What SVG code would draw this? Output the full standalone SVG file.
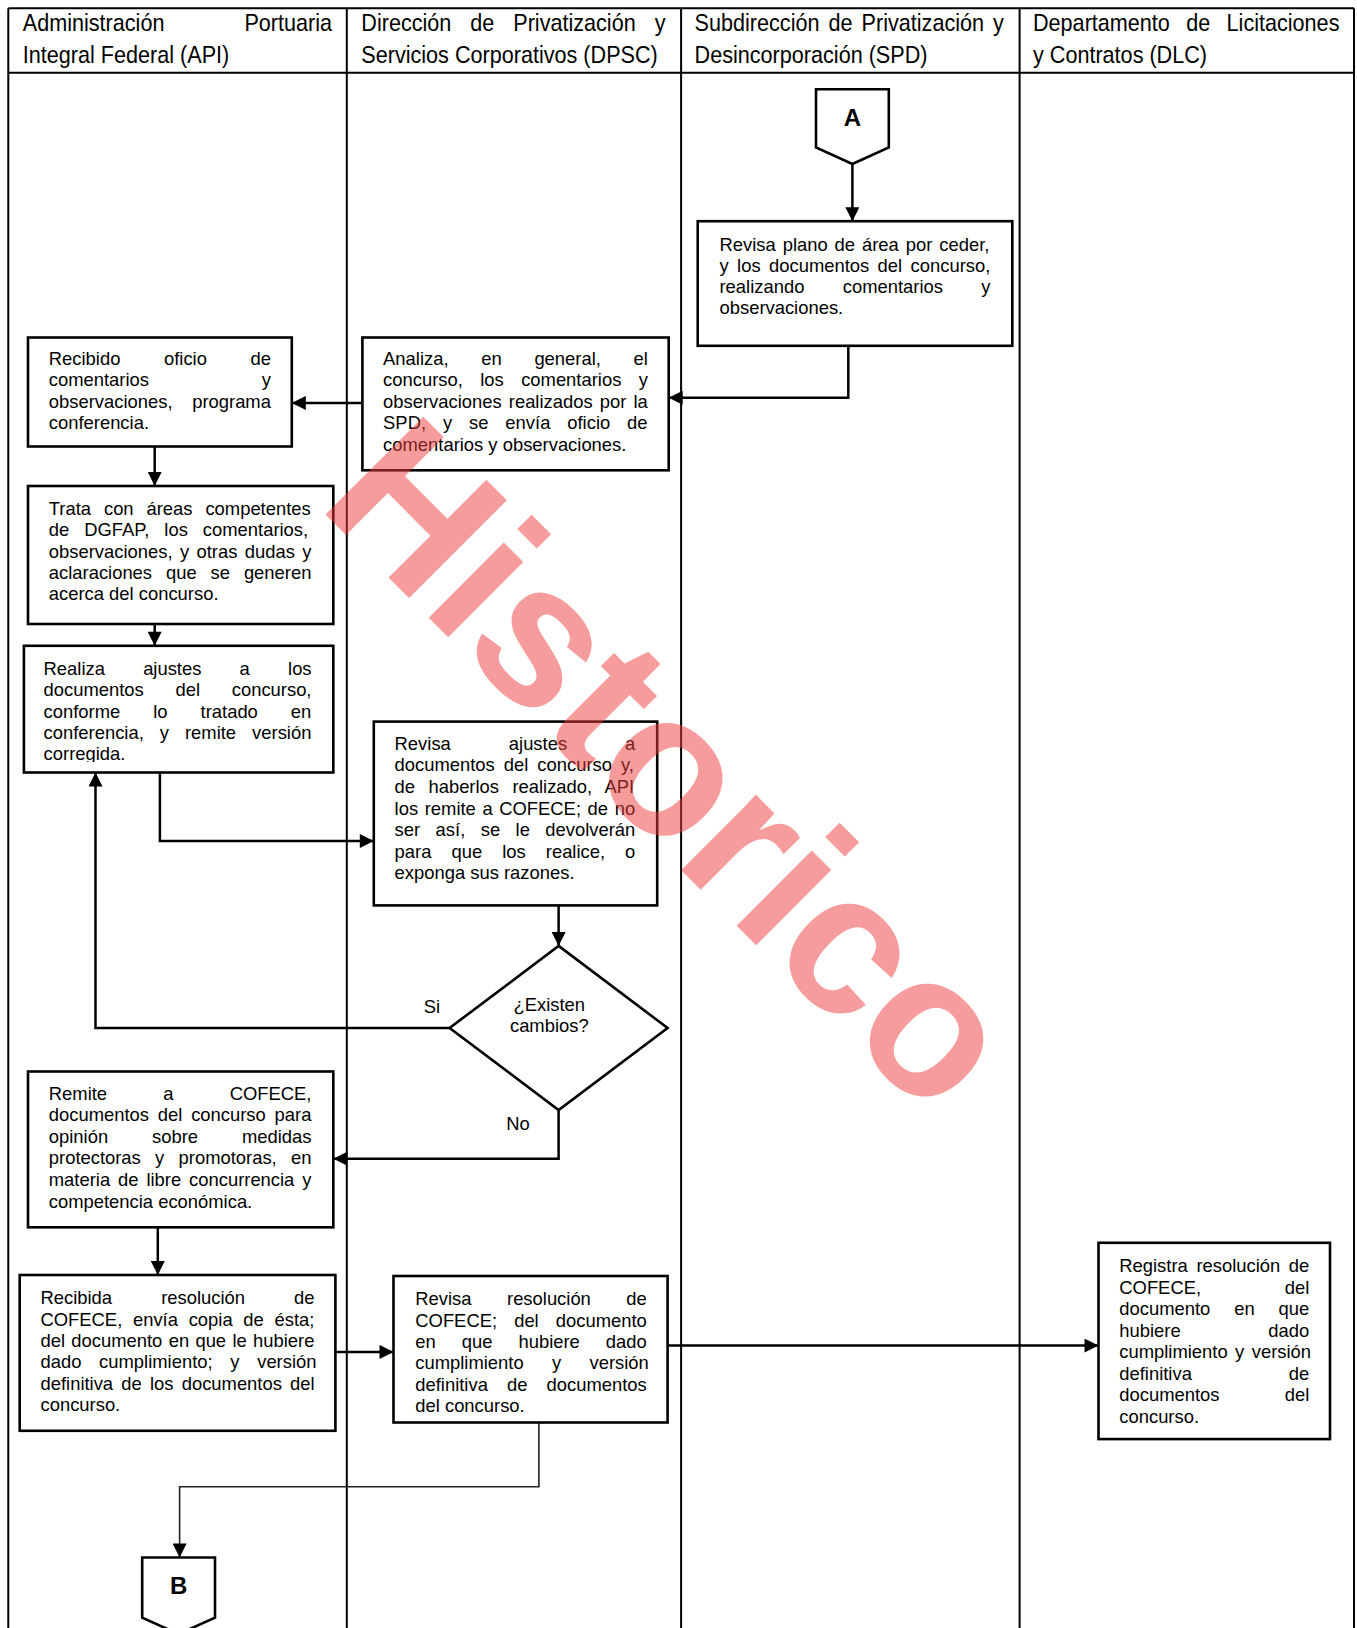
<svg xmlns="http://www.w3.org/2000/svg" width="1357" height="1628" viewBox="0 0 1357 1628">
<style>
.lane{stroke:#000;stroke-width:2;fill:none}
.box{fill:#fff;stroke:#000;stroke-width:2.6}
.c{stroke:#000;stroke-width:2.5;fill:none}
.thin{stroke:#222;stroke-width:1.6;fill:none}
.t{font-family:"Liberation Sans",Arial,sans-serif;font-size:18.4px;fill:#000}
.h{font-family:"Liberation Sans",Arial,sans-serif;font-size:24px;fill:#000}
.lbl{font-family:"Liberation Sans",Arial,sans-serif;font-size:24px;font-weight:bold;fill:#000;text-anchor:middle}
.m{text-anchor:middle}
.wm{font-family:"Liberation Sans",Arial,sans-serif;font-size:201px;font-weight:bold;fill:#f03c3c}
</style>
<defs>
<marker id="ah" viewBox="0 0 10 10" refX="10" refY="5" markerWidth="15" markerHeight="14" markerUnits="userSpaceOnUse" orient="auto"><path d="M0,0 L10,5 L0,10 z" fill="#000"/></marker>
<clipPath id="clipRealiza"><rect x="24" y="646" width="309" height="116"/></clipPath>
</defs>
<rect x="0" y="0" width="1357" height="1628" fill="#fff"/>
<g id="lanes">
<path class="lane" d="M8.3,8.3 H1354 M8.3,72.7 H1354 M8.3,8.3 V1628 M346.8,8.3 V1628 M681.1,8.3 V1628 M1019.6,8.3 V1628 M1354,8.3 V1628"/>
<text class="h" transform="translate(22.8,31.4) scale(0.9,1)" style="word-spacing:82.2px">Administración Portuaria</text>
<text class="h" transform="translate(22.8,62.6) scale(0.9,1)">Integral Federal (API)</text>
<text class="h" transform="translate(361.3,31.4) scale(0.9,1)" style="word-spacing:14.4px">Dirección de Privatización y</text>
<text class="h" transform="translate(361.3,62.6) scale(0.9,1)">Servicios Corporativos (DPSC)</text>
<text class="h" transform="translate(694.6,31.4) scale(0.9,1)" style="word-spacing:3.4px">Subdirección de Privatización y</text>
<text class="h" transform="translate(694.6,62.6) scale(0.9,1)">Desincorporación (SPD)</text>
<text class="h" transform="translate(1033,31.4) scale(0.9,1)" style="word-spacing:11.5px">Departamento de Licitaciones</text>
<text class="h" transform="translate(1033,62.6) scale(0.9,1)">y Contratos (DLC)</text>
</g>
<g id="connectors">
<path class="c" d="M852.4,164 V221.2" marker-end="url(#ah)"/>
<path class="c" d="M848.3,345.8 V397.7 H668.7" marker-end="url(#ah)"/>
<path class="c" d="M362.4,402.9 H291.8" marker-end="url(#ah)"/>
<path class="c" d="M154.7,446.5 V486" marker-end="url(#ah)"/>
<path class="c" d="M154.7,624 V645.8" marker-end="url(#ah)"/>
<path class="c" d="M159.9,772.5 V841 H373.8" marker-end="url(#ah)"/>
<path class="c" d="M558.6,905.4 V945.9" marker-end="url(#ah)"/>
<path class="c" d="M449.6,1028 H95.5 V772.5" marker-end="url(#ah)"/>
<path class="c" d="M558.6,1110 V1158.7 H333.3" marker-end="url(#ah)"/>
<path class="c" d="M157.8,1227.3 V1275" marker-end="url(#ah)"/>
<path class="c" d="M335.4,1351.9 H393.5" marker-end="url(#ah)"/>
<path class="c" d="M667.6,1345.6 H1098.5" marker-end="url(#ah)"/>
<path class="thin" d="M538.9,1422.5 V1486.8 H179.6 V1557.5" marker-end="url(#ah)"/>
<text class="t m" x="432" y="1012.5">Si</text>
<text class="t m" x="518" y="1130">No</text>
</g>
<g id="conA">
<path class="box" stroke-width="2.2" d="M816,89.3 H888.8 V147.4 L852.4,164 L816,147.4 Z"/>
<text class="lbl" x="852.4" y="126">A</text>
</g>
<g id="revisaPlano">
<rect class="box" x="697.7" y="221.2" width="314.6" height="124.6"/>
<text class="t" x="719.5" y="250.5" style="word-spacing:1.84px">Revisa plano de área por ceder,</text>
<text class="t" x="719.5" y="271.6" style="word-spacing:3.3px">y los documentos del concurso,</text>
<text class="t" x="719.5" y="292.7" style="word-spacing:33.25px">realizando comentarios y</text>
<text class="t" x="719.5" y="313.8">observaciones.</text>
</g>
<g id="analiza">
<rect class="box" x="362.4" y="337.5" width="306.3" height="132.8"/>
<text class="t" x="383.1" y="364.5" style="word-spacing:27.6px">Analiza, en general, el</text>
<text class="t" x="383.1" y="386.1" style="word-spacing:12.3px">concurso, los comentarios y</text>
<text class="t" x="383.1" y="407.7" style="word-spacing:2px">observaciones realizados por la</text>
<text class="t" x="383.1" y="429.3" style="word-spacing:11.8px">SPD, y se envía oficio de</text>
<text class="t" x="383.1" y="450.9">comentarios y observaciones.</text>
</g>
<g id="recibido">
<rect class="box" x="28" y="337.5" width="263.8" height="109"/>
<text class="t" x="48.8" y="364.5" style="word-spacing:38.5px">Recibido oficio de</text>
<text class="t" x="48.8" y="386.1" style="word-spacing:107.7px">comentarios y</text>
<text class="t" x="48.8" y="407.7" style="word-spacing:14.6px">observaciones, programa</text>
<text class="t" x="48.8" y="429.3">conferencia.</text>
</g>
<g id="trata">
<rect class="box" x="28" y="486" width="305.3" height="138"/>
<text class="t" x="48.8" y="515.1" style="word-spacing:7.8px">Trata con áreas competentes</text>
<text class="t" x="48.8" y="536.4" style="word-spacing:9.9px">de DGFAP, los comentarios,</text>
<text class="t" x="48.8" y="557.7" style="word-spacing:2.3px">observaciones, y otras dudas y</text>
<text class="t" x="48.8" y="579" style="word-spacing:8.8px">aclaraciones que se generen</text>
<text class="t" x="48.8" y="600.3">acerca del concurso.</text>
</g>
<g id="realiza">
<rect class="box" x="23.9" y="645.8" width="309.4" height="126.7"/>
<g clip-path="url(#clipRealiza)">
<text class="t" x="43.6" y="675" style="word-spacing:33.1px">Realiza ajustes a los</text>
<text class="t" x="43.6" y="696.3" style="word-spacing:26.6px">documentos del concurso,</text>
<text class="t" x="43.6" y="717.6" style="word-spacing:27.9px">conforme lo tratado en</text>
<text class="t" x="43.6" y="738.9" style="word-spacing:10.9px">conferencia, y remite versión</text>
<text class="t" x="43.6" y="760.2">corregida.</text>
</g>
</g>
<g id="revisaAjustes">
<rect class="box" x="373.8" y="721.6" width="283.4" height="183.8"/>
<text class="t" x="394.6" y="749.7" style="word-spacing:52.9px">Revisa ajustes a</text>
<text class="t" x="394.6" y="771.3" style="word-spacing:3.9px">documentos del concurso y,</text>
<text class="t" x="394.6" y="792.9" style="word-spacing:8.3px">de haberlos realizado, API</text>
<text class="t" x="394.6" y="814.5" style="word-spacing:1.5px">los remite a COFECE; de no</text>
<text class="t" x="394.6" y="836.1" style="word-spacing:10.35px">ser así, se le devolverán</text>
<text class="t" x="394.6" y="857.7" style="word-spacing:14.95px">para que los realice, o</text>
<text class="t" x="394.6" y="879.3">exponga sus razones.</text>
</g>
<g id="decision">
<path class="box" stroke-width="2.4" d="M558.6,945.9 L667.6,1028 L558.6,1110 L449.6,1028 Z"/>
<text class="t m" x="549.3" y="1010.5">¿Existen</text>
<text class="t m" x="549.3" y="1032.1">cambios?</text>
</g>
<g id="remite">
<rect class="box" x="28" y="1071.5" width="305.3" height="155.8"/>
<text class="t" x="48.8" y="1099.6" style="word-spacing:51.1px">Remite a COFECE,</text>
<text class="t" x="48.8" y="1121.2" style="word-spacing:3.7px">documentos del concurso para</text>
<text class="t" x="48.8" y="1142.8" style="word-spacing:38.8px">opinión sobre medidas</text>
<text class="t" x="48.8" y="1164.4" style="word-spacing:9.2px">protectoras y promotoras, en</text>
<text class="t" x="48.8" y="1186" style="word-spacing:2.8px">materia de libre concurrencia y</text>
<text class="t" x="48.8" y="1207.6">competencia económica.</text>
</g>
<g id="recibida">
<rect class="box" x="19.7" y="1275" width="315.7" height="155.8"/>
<text class="t" x="40.5" y="1304.2" style="word-spacing:44px">Recibida resolución de</text>
<text class="t" x="40.5" y="1325.6" style="word-spacing:5.6px">COFECE, envía copia de ésta;</text>
<text class="t" x="40.5" y="1347" style="word-spacing:1.2px">del documento en que le hubiere</text>
<text class="t" x="40.5" y="1368.4" style="word-spacing:12.6px">dado cumplimiento; y versión</text>
<text class="t" x="40.5" y="1389.8" style="word-spacing:3.1px">definitiva de los documentos del</text>
<text class="t" x="40.5" y="1411.2">concurso.</text>
</g>
<g id="revisaResolucion">
<rect class="box" x="393.5" y="1276" width="274.1" height="146.5"/>
<text class="t" x="415.3" y="1305.2" style="word-spacing:30.4px">Revisa resolución de</text>
<text class="t" x="415.3" y="1326.6" style="word-spacing:12px">COFECE; del documento</text>
<text class="t" x="415.3" y="1348" style="word-spacing:20.9px">en que hubiere dado</text>
<text class="t" x="415.3" y="1369.4" style="word-spacing:23.2px">cumplimiento y versión</text>
<text class="t" x="415.3" y="1390.8" style="word-spacing:14px">definitiva de documentos</text>
<text class="t" x="415.3" y="1412.2">del concurso.</text>
</g>
<g id="registra">
<rect class="box" x="1098.5" y="1242.8" width="231.5" height="196.3"/>
<text class="t" x="1119.3" y="1272" style="word-spacing:3.5px">Registra resolución de</text>
<text class="t" x="1119.3" y="1293.5" style="word-spacing:78.6px">COFECE, del</text>
<text class="t" x="1119.3" y="1315" style="word-spacing:18.8px">documento en que</text>
<text class="t" x="1119.3" y="1336.5" style="word-spacing:82.6px">hubiere dado</text>
<text class="t" x="1119.3" y="1358" style="word-spacing:2.35px">cumplimiento y versión</text>
<text class="t" x="1119.3" y="1379.5" style="word-spacing:91.8px">definitiva de</text>
<text class="t" x="1119.3" y="1401" style="word-spacing:60.1px">documentos del</text>
<text class="t" x="1119.3" y="1422.5">concurso.</text>
</g>
<g id="conB">
<path class="box" stroke-width="2.2" d="M142.2,1557.5 H215 V1617.7 L178.6,1634 L142.2,1617.7 Z"/>
<text class="lbl" x="178.6" y="1594">B</text>
</g>
<g id="watermark" opacity="0.5">
<text class="wm" transform="translate(316,505) rotate(45)" x="0" y="0">Historico</text>
</g>
</svg>
